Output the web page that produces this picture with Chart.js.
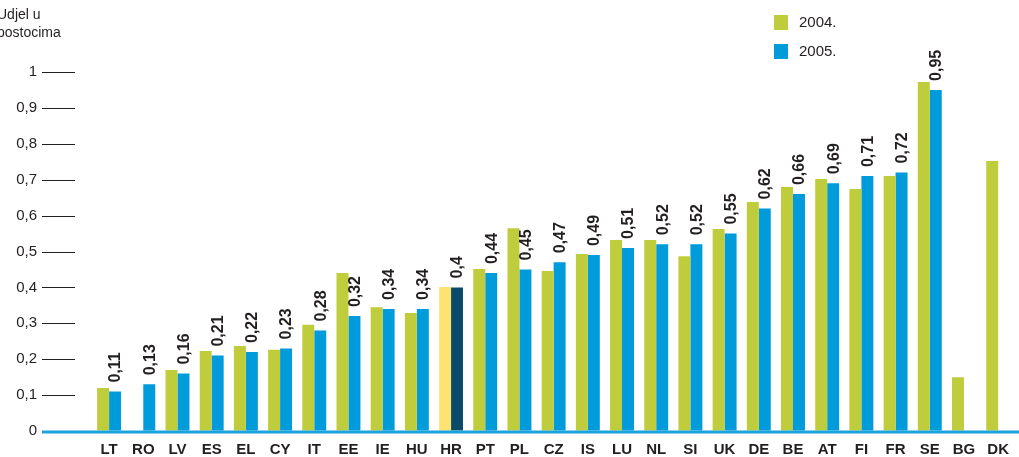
<!DOCTYPE html>
<html>
<head>
<meta charset="utf-8">
<script src="https://cdn.jsdelivr.net/npm/chart.js@4/dist/chart.umd.min.js"></script>
<style>
  html, body { margin: 0; padding: 0; background: #fff; overflow: hidden; }
  canvas { display: block; }
</style>
</head>
<body>
<canvas id="shareChart" width="1019" height="457"></canvas>
<script>
// Countries and shares in percent
const categories = ["LT", "RO", "LV", "ES", "EL", "CY", "IT", "EE", "IE", "HU", "HR", "PT", "PL", "CZ",
    "IS", "LU", "NL", "SI", "UK", "DE", "BE", "AT", "FI", "FR", "SE", "BG", "DK"];
const values2004 = [0.12, null, 0.17, 0.223, 0.237, 0.226, 0.296, 0.44, 0.345, 0.329, 0.401, 0.451, 0.565, 0.446,
    0.493, 0.532, 0.532, 0.487, 0.563, 0.638, 0.68, 0.702, 0.674, 0.71, 0.972, 0.15, 0.752];
const values2005 = [0.11, 0.13, 0.16, 0.21, 0.22, 0.23, 0.28, 0.32, 0.34, 0.34, 0.4, 0.44, 0.45, 0.47,
    0.49, 0.51, 0.52, 0.52, 0.55, 0.62, 0.66, 0.69, 0.71, 0.72, 0.95, null, null];
const seriesLabels = ["2004.", "2005."];
const yTickLabels = ["0", "0,1", "0,2", "0,3", "0,4", "0,5", "0,6", "0,7", "0,8", "0,9", "1"];
const axisTitle = ["Udjel u", "postocima"];

const GREEN = "#bfcc3c";
const BLUE = "#009bdb";
const FONT = "'Liberation Sans', Arial, Helvetica, sans-serif";
const TEXT = "#231f20";
const highlight = categories.indexOf("HR");

// tick marks, baseline, value labels, legend and axis title
const decorations = {
    id: "decorations",
    afterDatasetsDraw(chart) {
        const ctx = chart.ctx;
        const area = chart.chartArea;
        const y = chart.scales.y;

        ctx.save();
        // short tick lines left of the plot
        ctx.strokeStyle = TEXT;
        ctx.lineWidth = 1.2;
        y.ticks.forEach(t => {
            if (t.value === 0) return;
            const py = Math.round(y.getPixelForValue(t.value)) + 0.5;
            ctx.beginPath();
            ctx.moveTo(area.left - 50, py);
            ctx.lineTo(area.left - 17, py);
            ctx.stroke();
        });

        // blue baseline
        const y0 = y.getPixelForValue(0);
        ctx.strokeStyle = "#1aa3dd";
        ctx.lineWidth = 3;
        ctx.beginPath();
        ctx.moveTo(area.left - 50, y0 + 1);
        ctx.lineTo(chart.width, y0 + 1);
        ctx.stroke();

        // rotated value labels above the 2005 bars
        const meta = chart.getDatasetMeta(1);
        ctx.fillStyle = TEXT;
        ctx.font = "bold 16px " + FONT;
        ctx.textAlign = "left";
        ctx.textBaseline = "middle";
        meta.data.forEach((bar, i) => {
            const v = values2005[i];
            if (v === null) return;
            ctx.save();
            ctx.translate(bar.x + 1, bar.y - 9);
            ctx.rotate(-Math.PI / 2);
            ctx.fillText(String(v).replace(".", ","), 0, 0);
            ctx.restore();
        });

        // legend
        ctx.font = "15px " + FONT;
        chart.data.datasets.forEach((ds, i) => {
            const ly = 15 + i * 29;
            ctx.fillStyle = i === 0 ? GREEN : BLUE;
            ctx.fillRect(774, ly, 14, 15);
            ctx.fillStyle = TEXT;
            ctx.fillText(ds.label, 799, ly + 8);
        });

        // axis title
        ctx.font = "14px " + FONT;
        axisTitle.forEach((line, i) => ctx.fillText(line, -3, 15 + i * 18));
        ctx.restore();
    }
};

new Chart(document.getElementById("shareChart"), {
    type: "bar",
    data: {
        labels: categories,
        datasets: [
            {
                label: seriesLabels[0],
                data: values2004,
                backgroundColor: ctx => ctx.dataIndex === highlight ? "#fee372" : GREEN
            },
            {
                label: seriesLabels[1],
                data: values2005,
                backgroundColor: ctx => ctx.dataIndex === highlight ? "#0b4a69" : BLUE
            }
        ]
    },
    options: {
        responsive: false,
        animation: false,
        // plot runs slightly past the right edge, as the last group is cut off
        layout: { padding: { top: 72, right: -3, left: 0, bottom: 0 } },
        datasets: { bar: { categoryPercentage: 0.7, barPercentage: 1.0 } },
        plugins: {
            legend: { display: false },
            tooltip: { enabled: false }
        },
        scales: {
            x: {
                afterFit: scale => { scale.height = 26; },
                grid: { display: false, drawTicks: false },
                border: { display: false },
                ticks: {
                    color: TEXT,
                    font: { family: FONT, size: 15, weight: "bold" },
                    padding: 10,
                    maxRotation: 0,
                    autoSkip: false
                }
            },
            y: {
                min: 0,
                max: 1,
                afterFit: scale => { scale.width = 92; },
                // invisible tick length keeps the labels clear of the plot
                grid: { drawOnChartArea: false, drawTicks: true, tickLength: 54, color: "rgba(0,0,0,0)" },
                border: { display: false },
                ticks: {
                    stepSize: 0.1,
                    color: TEXT,
                    padding: 1,
                    font: { family: FONT, size: 15 },
                    callback: (value, index) => yTickLabels[index]
                }
            }
        }
    },
    plugins: [decorations]
});
</script>
</body>
</html>
